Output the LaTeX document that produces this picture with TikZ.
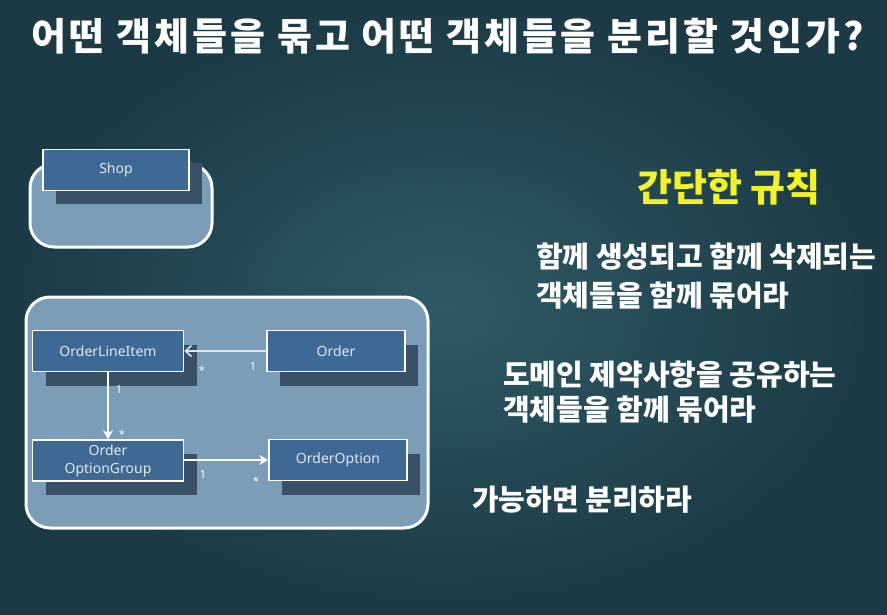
\documentclass[tikz,border=0pt]{standalone}
\usepackage{fontspec}
\setsansfont{Noto Sans}
\newfontfamily\krfont{Noto Sans CJK KR}
\usetikzlibrary{arrows.meta,shadows,positioning}
\definecolor{bgin}{HTML}{2F5A65}
\definecolor{bgout}{HTML}{1B3A45}
\definecolor{groupfill}{HTML}{7B9DB8}
\definecolor{boxfill}{HTML}{3E6994}
\definecolor{boxshadow}{HTML}{3A5066}
\definecolor{rulecol}{HTML}{F2F22A}
\tikzset{
	umlbox/.style={draw=white, line width=1.6pt, fill=boxfill, text=white!85!boxfill,
		font=\sffamily\fontsize{14}{18}\selectfont, minimum width=151pt, minimum height=41pt,
		align=center, inner sep=2pt,
		general shadow={fill=boxshadow, shadow xshift=13pt, shadow yshift=-14pt}},
	narrowbox/.style={umlbox, minimum width=138pt},
	group/.style={draw=white, line width=3pt, fill=groupfill, rounded corners=24pt},
	mult/.style={text=white, font=\sffamily\fontsize{11}{12}\selectfont, inner sep=1pt},
	assoc/.style={draw=white, line width=1.6pt},
	rule/.style={text=white, font=\krfont\bfseries\fontsize{29}{32}\selectfont, anchor=west, inner sep=0pt},
}

\begin{document}
\begin{tikzpicture}[x=1pt,y=-1pt]
	\shade[inner color=bgin, outer color=bgout] (0,0) rectangle (887,615);
	\useasboundingbox (0,0) rectangle (887,615);
	\node[text=white, font=\krfont\bfseries\fontsize{38}{40}\selectfont\addfontfeatures{LetterSpace=8}] (title) at (448,36) {어떤 객체들을 묶고 어떤 객체들을 분리할 것인가?};

	\draw[group] (30,164) rectangle (212,247);
	\node[umlbox, minimum width=146pt] (shop) at (116,170) {Shop};

	\draw[group] (26,297) rectangle (428,528);
	\node[umlbox] (lineitem) at (108,351) {OrderLineItem};
	\node[narrowbox] (order) at (336,351) {Order};
	\node[umlbox] (optiongroup) [below=67pt of lineitem] {Order\\OptionGroup};
	\node[narrowbox] (option) at (338,460) {OrderOption};
	\draw[assoc, draw=white!75!groupfill, -{Straight Barb[length=6pt,width=11pt]}] (order) -- (lineitem);
	\draw[assoc, -{Stealth[length=9pt,width=10pt]}] (lineitem) -- (optiongroup);
	\draw[assoc, -{Stealth[length=9pt,width=10pt]}] (optiongroup.east |- option) -- (option);
	\node[mult] (m1) at (202,370) {*};
	\node[mult] (m2) at (253,367) {1};
	\node[mult] (m3) at (119,390) {1};
	\node[mult] (m4) at (122,434) {*};
	\node[mult] (m5) at (203,475) {1};
	\node[mult] (m6) at (256,481) {*};

	\node[text=rulecol, font=\krfont\bfseries\fontsize{38}{40}\selectfont] (rules) at (729,187) {간단한 규칙};
	\node[rule] (r1a) at (536,257) {함께 생성되고 함께 삭제되는};
	\node[rule] (r1b) at (536,296) {객체들을 함께 묶어라};
	\node[rule] (r2a) at (503,375) {도메인 제약사항을 공유하는};
	\node[rule] (r2b) at (503,410) {객체들을 함께 묶어라};
	\node[rule] (r3) at (472,500) {가능하면 분리하라};
\end{tikzpicture}
\end{document}
